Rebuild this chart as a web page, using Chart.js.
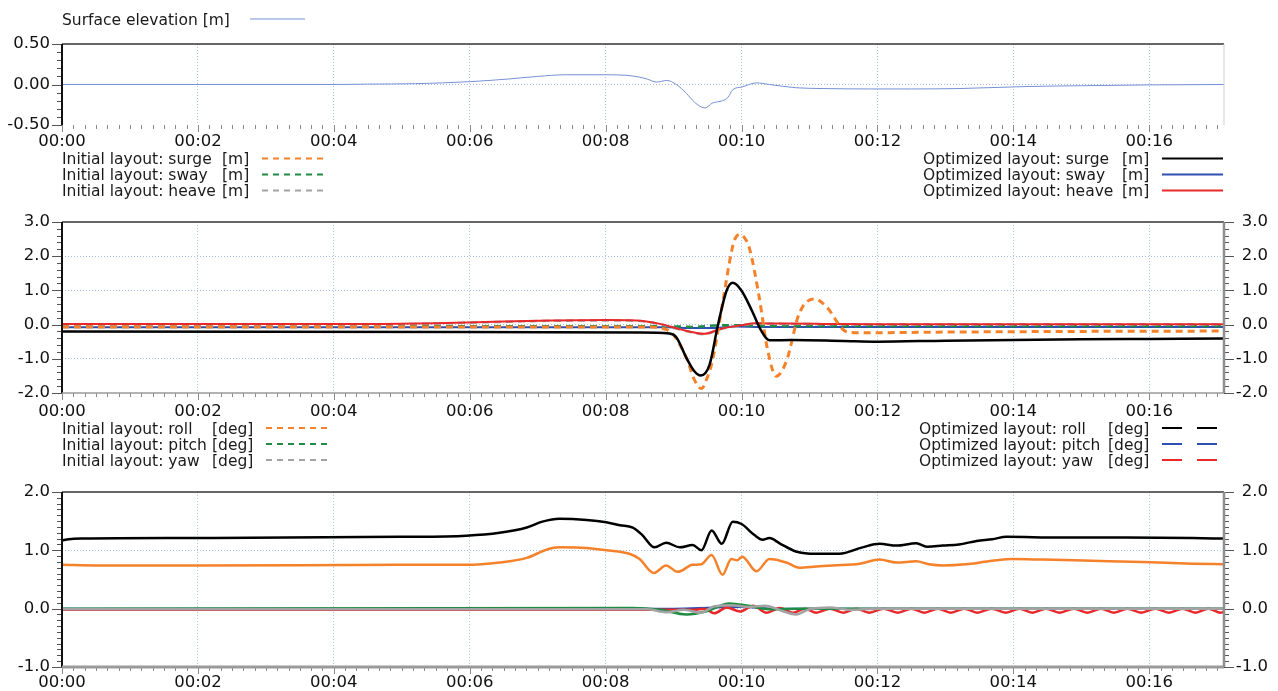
<!DOCTYPE html>
<html><head><meta charset="utf-8">
<script src="https://cdn.jsdelivr.net/npm/chart.js@4.4.1/dist/chart.umd.min.js"></script>
<style>
html,body{margin:0;padding:0;background:#fff;width:1278px;height:691px;overflow:hidden;}
#wrap{position:relative;width:1278px;height:691px;}
canvas{position:absolute;left:0;}
.lg{position:absolute;font-family:'DejaVu Sans',sans-serif;font-size:15.5px;line-height:16px;color:#1a1a1a;white-space:pre;z-index:5;}
svg.ls{position:absolute;left:0;top:0;width:1278px;height:691px;z-index:5;pointer-events:none;}
</style></head><body><div id="wrap">
<canvas id="c1" width="1278" height="160" style="top:0px"></canvas>
<canvas id="c2" width="1278" height="225" style="top:200px"></canvas>
<canvas id="c3" width="1278" height="221" style="top:470px"></canvas>
<div id="legends"></div>
<svg class="ls" id="lsvg"></svg>
</div>
<script>
// ---------- axes ----------
const X_MAX = 17.1;
const X_TICKS = [0, 2, 4, 6, 8, 10, 12, 14, 16];
const X_LABELS = ['00:00','00:02','00:04','00:06','00:08','00:10','00:12','00:14','00:16'];
const Y1_TICKS = [-0.5, 0, 0.5];
const Y1_LABELS = ['-0.50', '0.00', '0.50'];
const Y2_TICKS = [-2, -1, 0, 1, 2, 3];
const Y2_LABELS = ['-2.0', '-1.0', '0.0', '1.0', '2.0', '3.0'];
const Y3_TICKS = [-1, 0, 1, 2];
const Y3_LABELS = ['-1.0', '0.0', '1.0', '2.0'];

// ---------- panel 1: surface elevation ----------
const SURF_T = [0, 3.9, 4.5, 5.2, 6.0, 6.6, 7.0, 7.4, 8.0, 8.4, 8.6, 8.75, 8.9, 9.04, 9.19, 9.31, 9.46, 9.57, 9.72, 9.8, 9.87, 10.01, 10.22, 10.41, 10.8, 11.2, 11.9, 12.5, 13.2, 13.6, 14.2, 15.0, 16.0, 17.1];
const SURF_V = [0, 0, 0.005, 0.01, 0.035, 0.07, 0.1, 0.12, 0.12, 0.105, 0.07, 0.03, 0.05, 0.0, -0.11, -0.22, -0.29, -0.23, -0.20, -0.16, -0.065, -0.03, 0.02, 0.0, -0.04, -0.05, -0.055, -0.055, -0.05, -0.04, -0.025, -0.015, -0.005, 0.0];

// ---------- panel 2: translations [m] ----------
const SURGE_INI_T = [0, 8.6, 8.85, 8.99, 9.19, 9.31, 9.41, 9.48, 9.57, 9.72, 9.85, 9.9, 9.97, 10.04, 10.12, 10.26, 10.38, 10.51, 10.66, 10.85, 11.07, 11.25, 11.49, 11.59, 11.8, 13.0, 15.0, 17.1];
const SURGE_INI   = [-0.07, -0.07, -0.12, -0.28, -0.98, -1.63, -1.87, -1.63, -1.07, 0.61, 2.11, 2.49, 2.63, 2.55, 2.2, 0.8, -0.7, -1.51, -1.07, 0.33, 0.75, 0.52, -0.14, -0.23, -0.24, -0.22, -0.2, -0.19];
const SURGE_OPT_T = [0, 8.5, 8.94, 9.04, 9.19, 9.3, 9.4, 9.53, 9.65, 9.78, 9.87, 10.0, 10.15, 10.29, 10.41, 10.75, 11.5, 12.0, 13.0, 14.0, 15.0, 16.0, 17.1];
const SURGE_OPT   = [-0.2, -0.23, -0.26, -0.37, -0.98, -1.35, -1.49, -1.17, -0.04, 0.99, 1.22, 0.99, 0.42, -0.18, -0.46, -0.45, -0.48, -0.5, -0.47, -0.45, -0.43, -0.42, -0.41];
const SWAY_T   = [0, 8.9, 9.3, 9.6, 9.9, 10.3, 17.1];
const SWAY_INI = [-0.05, -0.05, -0.07, -0.03, -0.02, -0.04, -0.04];
const SWAY_OPT = [-0.08, -0.08, -0.1, -0.1, -0.06, -0.07, -0.07];
const HEAVE_T   = [0, 4.5, 5.5, 6.5, 7.2, 8.0, 8.45, 8.8, 9.1, 9.45, 9.7, 10.0, 10.2, 10.6, 11.2, 12.0, 17.1];
const HEAVE_OPT = [0.02, 0.02, 0.04, 0.09, 0.12, 0.13, 0.12, 0.02, -0.14, -0.27, -0.12, -0.02, 0.04, 0.03, 0.02, 0.01, 0.01];
const HEAVE_INI = [0.0, 0.0, 0.03, 0.08, 0.11, 0.12, 0.11, 0.01, -0.15, -0.28, -0.13, -0.03, 0.03, 0.02, 0.01, 0.0, 0.0];

// ---------- panel 3: rotations [deg] ----------
const ROLL_OPT_T = [0, 0.1, 0.3, 2, 4.97, 5.95, 6.44, 6.84, 7.07, 7.32, 7.72, 8.01, 8.21, 8.4, 8.54, 8.72, 8.89, 9.09, 9.28, 9.41, 9.56, 9.71, 9.87, 10.0, 10.19, 10.31, 10.41, 10.56, 10.8, 11.1, 11.44, 11.78, 12.03, 12.28, 12.57, 12.74, 12.96, 13.2, 13.46, 13.69, 13.9, 14.68, 15.66, 16.63, 17.1];
const ROLL_OPT   = [1.17, 1.19, 1.2, 1.21, 1.23, 1.25, 1.30, 1.39, 1.49, 1.54, 1.52, 1.48, 1.43, 1.39, 1.26, 1.05, 1.13, 1.05, 1.09, 1.0, 1.34, 1.11, 1.49, 1.45, 1.26, 1.18, 1.21, 1.12, 0.98, 0.94, 0.94, 1.05, 1.11, 1.08, 1.12, 1.06, 1.08, 1.10, 1.16, 1.19, 1.23, 1.22, 1.22, 1.21, 1.20];
const ROLL_INI_T = [0, 0.5, 2, 4.97, 5.95, 6.44, 6.84, 7.13, 7.32, 7.72, 8.01, 8.35, 8.5, 8.71, 8.89, 9.06, 9.28, 9.41, 9.56, 9.72, 9.85, 9.94, 10.01, 10.22, 10.41, 10.66, 10.85, 11.1, 11.34, 11.74, 12.03, 12.28, 12.57, 12.76, 12.96, 13.3, 13.69, 13.99, 14.43, 15.16, 15.9, 16.63, 17.1];
const ROLL_INI   = [0.75, 0.74, 0.74, 0.75, 0.75, 0.79, 0.87, 1.01, 1.05, 1.04, 1.0, 0.94, 0.85, 0.61, 0.74, 0.63, 0.75, 0.76, 0.92, 0.58, 0.85, 0.83, 0.89, 0.64, 0.85, 0.79, 0.70, 0.72, 0.74, 0.77, 0.84, 0.79, 0.81, 0.76, 0.74, 0.76, 0.82, 0.85, 0.84, 0.82, 0.80, 0.77, 0.76];
const PITCH_INI_T = [0, 8.4, 8.8, 9.19, 9.5, 9.82, 10.1, 10.4, 10.8, 17.1];
const PITCH_INI   = [0.0, 0.01, -0.02, -0.1, -0.04, 0.09, 0.05, -0.01, 0.0, 0.0];
const PITCH_OPT_T = [0, 9.0, 9.6, 10.0, 10.5, 17.1];
const PITCH_OPT   = [0.0, 0.0, 0.02, 0.03, 0.0, 0.0];
const YAW_INI_T = [0, 8.6, 8.9, 9.15, 9.4, 9.6, 9.85, 10.1, 10.35, 10.6, 10.8, 11.0, 11.3, 11.6, 12.0, 17.1];
const YAW_INI   = [-0.01, -0.01, -0.06, -0.02, -0.07, 0.04, 0.06, 0.03, 0.05, -0.04, -0.1, -0.01, 0.02, -0.02, 0.0, 0.0];
const YAW_OPT_T = [0, 9.3, 9.45, 9.6, 9.78, 9.98, 10.17, 10.37, 10.56, 10.76, 10.93, 11.1, 11.3, 11.5, 11.69, 11.88, 12.09, 12.30, 12.5, 12.69, 12.89, 13.08, 13.28, 13.47, 13.68, 13.89, 14.09, 14.28, 14.48, 14.68, 14.89, 15.09, 15.29, 15.48, 15.68, 15.88, 16.09, 16.29, 16.49, 16.68, 16.87, 17.05, 17.1];
const YAW_OPT   = [-0.02, -0.02, 0.0, -0.08, 0.02, -0.05, 0.05, -0.07, 0.01, -0.07, 0.0, -0.07, 0.0, -0.07, 0.0, -0.07, 0.0, -0.07, 0.0, -0.07, 0.0, -0.07, 0.0, -0.07, 0.0, -0.07, 0.0, -0.07, 0.0, -0.07, 0.0, -0.07, 0.0, -0.07, 0.0, -0.07, 0.0, -0.07, 0.0, -0.07, 0.0, -0.07, -0.05];

// ---------- legends ----------
const LEG1 = ['Surface elevation [m]'];
const LEG2_L = ['Initial layout: surge', 'Initial layout: sway', 'Initial layout: heave'];
const LEG2_R = ['Optimized layout: surge', 'Optimized layout: sway', 'Optimized layout: heave'];
const LEG3_L = ['Initial layout: roll', 'Initial layout: pitch', 'Initial layout: yaw'];
const LEG3_R = ['Optimized layout: roll', 'Optimized layout: pitch', 'Optimized layout: yaw'];

const C = {orange:'#f5822a', green:'#1f8b45', gray:'#a3a3a3', black:'#000000', blue:'#2d4fb2', red:'#e8282b', surf:'#7590d4'};
const FONT = 'DejaVu Sans';

const pts = (t, v) => t.map((x, i) => ({x: x, y: v[i]}));
const ds = (t, v, color, w, dash) => ({data: pts(t, v), borderColor: color, borderWidth: w, borderDash: dash || [], pointRadius: 0, cubicInterpolationMode: 'monotone', borderJoinStyle: 'round', fill: false});

function line(ctx, x1, y1, x2, y2) { ctx.beginPath(); ctx.moveTo(x1, y1); ctx.lineTo(x2, y2); ctx.stroke(); }

const deco = {
  id: 'deco',
  afterDraw(chart, args, o) {
    const ctx = chart.ctx, a = chart.chartArea, xs = chart.scales.x, ys = chart.scales.y;
    ctx.save();
    ctx.lineWidth = 1;
    ctx.strokeStyle = '#8a8a8a';
    const nX = Math.floor(xs.max * 6 + 1e-6);
    for (let k = 0; k <= nX; k++) {
      const p = Math.round(xs.getPixelForValue(k / 6)) + 0.5;
      line(ctx, p, a.bottom, p, a.bottom + (k % 12 === 0 ? 7 : 4));
    }
    ctx.strokeStyle = '#555';
    const nY = Math.round((ys.max - ys.min) / o.yMinor);
    for (let k = 0; k <= nY; k++) {
      const p = Math.round(ys.getPixelForValue(ys.min + k * o.yMinor)) + 0.5;
      const major = k % o.yMajorEvery === 0;
      line(ctx, a.left - (major ? 10 : 5), p, a.left, p);
      if (o.right) line(ctx, a.right, p, a.right + (major ? 10 : 5), p);
    }
    // frame
    ctx.strokeStyle = '#333'; ctx.lineWidth = 1.5;
    line(ctx, a.left, a.top, a.right, a.top);
    ctx.strokeStyle = '#111'; ctx.lineWidth = 2;
    line(ctx, a.left, a.top, a.left, a.bottom);
    if (o.bottomW) { ctx.strokeStyle = '#9a9a9a'; ctx.lineWidth = o.bottomW; line(ctx, a.left, a.bottom, a.right, a.bottom); }
    ctx.strokeStyle = o.right ? '#8f8f8f' : '#cfcfcf'; ctx.lineWidth = o.right ? 2.5 : 1;
    line(ctx, a.right, a.top, a.right, a.bottom);
    ctx.restore();
  }
};

function yScale(ticks, labels, pos, min, max, grid) {
  return {
    type: 'linear', position: pos, min: min, max: max,
    afterBuildTicks: s => { s.ticks = ticks.map(v => ({value: v})); },
    afterFit: s => { s.width = pos === 'left' ? 62 : 44; },
    grid: {display: grid, drawTicks: false, drawOnChartArea: grid, lineWidth: 1,
      color: c => (c.tick && (c.tick.value === min || c.tick.value === max)) ? 'rgba(0,0,0,0)' : '#a9c0e6'},
    border: {display: false, dash: [1, 2]},
    ticks: {padding: pos === 'left' ? 12 : 3, color: '#111', font: {family: FONT, size: 16.5}, crossAlign: pos === 'left' ? 'near' : 'far',
      autoSkip: false, callback: (v, i) => labels[i]}
  };
}

function opts(p) {
  const scales = {
    x: {
      type: 'linear', min: 0, max: X_MAX,
      afterBuildTicks: s => { s.ticks = X_TICKS.map(v => ({value: v})); },
      afterFit: s => { s.height = p.xh; },
      grid: {drawTicks: false, lineWidth: 1, color: c => (c.tick && c.tick.value === 0) ? 'rgba(0,0,0,0)' : '#a9c0e6'},
      border: {display: false, dash: [1, 2]},
      ticks: {padding: p.xpad, color: '#111', font: {family: FONT, size: 16.5}, maxRotation: 0, autoSkip: false,
        callback: (v, i) => X_LABELS[i]}
    },
    y: yScale(p.yt, p.yl, 'left', p.ymin, p.ymax, true)
  };
  if (p.right) scales.y2 = yScale(p.yt, p.yl, 'right', p.ymin, p.ymax, false);
  return {
    responsive: false, animation: false, events: [],
    layout: {padding: {top: p.top, right: p.right ? 10 : 54, bottom: 0, left: 0}},
    plugins: {legend: {display: false}, tooltip: {enabled: false},
      deco: {yMinor: p.yMinor, yMajorEvery: p.yMajorEvery, right: p.right, bottomW: p.bottomW}},
    scales: scales
  };
}

new Chart(document.getElementById('c1'), {
  type: 'line', plugins: [deco],
  data: {datasets: [ds(SURF_T, SURF_V, C.surf, 1)]},
  options: opts({top: 44, xh: 35, xpad: 7, yt: Y1_TICKS, yl: Y1_LABELS, ymin: -0.5, ymax: 0.5, yMinor: 0.1, yMajorEvery: 5, right: false, bottomW: 0})
});

new Chart(document.getElementById('c2'), {
  type: 'line', plugins: [deco],
  data: {datasets: [
    ds(SURGE_OPT_T, SURGE_OPT, C.black, 2.5),
    ds(SURGE_INI_T, SURGE_INI, C.orange, 3, [7, 5]),
    ds(HEAVE_T, HEAVE_OPT, C.red, 2),
    ds(HEAVE_T, HEAVE_INI, C.gray, 2.5, [7, 5]),
    ds(SWAY_T, SWAY_INI, C.green, 2.5, [7, 5]),
    ds(SWAY_T, SWAY_OPT, C.blue, 2)
  ]},
  options: opts({top: 15, xh: 32, xpad: 9, yt: Y2_TICKS, yl: Y2_LABELS, ymin: -2, ymax: 3, yMinor: 0.2, yMajorEvery: 5, right: true, bottomW: 1.5})
});

new Chart(document.getElementById('c3'), {
  type: 'line', plugins: [deco],
  data: {datasets: [
    ds(ROLL_OPT_T, ROLL_OPT, C.black, 2.5),
    ds(ROLL_INI_T, ROLL_INI, C.orange, 2.5),
    ds(YAW_INI_T, YAW_INI, C.gray, 2.5),
    ds(PITCH_INI_T, PITCH_INI, C.green, 2.5),
    ds(YAW_OPT_T, YAW_OPT, C.red, 2.5),
    ds(PITCH_OPT_T, PITCH_OPT, C.blue, 2)
  ]},
  options: opts({top: 15, xh: 24, xpad: 6, yt: Y3_TICKS, yl: Y3_LABELS, ymin: -1, ymax: 2, yMinor: 0.1, yMajorEvery: 10, right: true, bottomW: 3})
});

// ---------- HTML legends ----------
const lg = document.getElementById('legends');
const svg = document.getElementById('lsvg');
function txt(s, x, top) {
  const d = document.createElement('div'); d.className = 'lg'; d.textContent = s;
  d.style.left = x + 'px'; d.style.top = top + 'px'; lg.appendChild(d);
}
function sample(x1, x2, y, color, w, dash) {
  const l = document.createElementNS('http://www.w3.org/2000/svg', 'line');
  l.setAttribute('x1', x1); l.setAttribute('x2', x2); l.setAttribute('y1', y); l.setAttribute('y2', y);
  l.setAttribute('stroke', color); l.setAttribute('stroke-width', w);
  if (dash) l.setAttribute('stroke-dasharray', dash);
  svg.appendChild(l);
}
txt(LEG1[0], 62, 12); sample(250, 305, 19, C.surf, 1);
const c2L = [C.orange, C.green, C.gray], c2R = [C.black, C.blue, C.red];
LEG2_L.forEach((s, i) => { txt(s, 62, 151 + 16 * i); txt('[m]', 222, 151 + 16 * i); sample(262, 323, 158.5 + 16 * i, c2L[i], 2, '6,5'); });
LEG2_R.forEach((s, i) => { txt(s, 923, 151 + 16 * i); txt('[m]', 1122, 151 + 16 * i); sample(1162, 1223, 158.5 + 16 * i, c2R[i], 2); });
LEG3_L.forEach((s, i) => { txt(s, 62, 421 + 16 * i); txt('[deg]', 212, 421 + 16 * i); sample(266, 327, 428 + 16 * i, c2L[i], 2, '6,5'); });
LEG3_R.forEach((s, i) => { txt(s, 919, 421 + 16 * i); txt('[deg]', 1108, 421 + 16 * i); sample(1162, 1223, 428 + 16 * i, c2R[i], 2, '20,15'); });
</script>
</body></html>
